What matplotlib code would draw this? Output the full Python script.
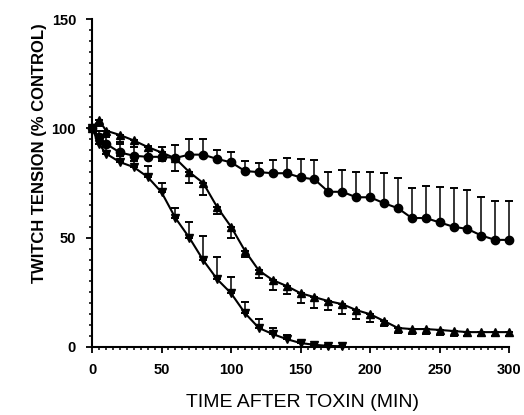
import matplotlib
matplotlib.use("Agg")
import matplotlib.pyplot as plt
from matplotlib.ticker import MultipleLocator

# temps (min)
t = [0, 5, 10, 20, 30, 40, 50, 60, 70, 80, 90, 100, 110, 120, 130, 140, 150,
     160, 170, 180, 190, 200, 210, 220, 230, 240, 250, 260, 270, 280, 290, 300]

# cercles : declin lent, barres vers le haut
rond = [100, 96, 93, 89, 87.5, 87, 87, 86.5, 88, 88, 86, 84.5, 80.5, 80, 79.5,
        79.5, 77.6, 76.7, 71, 71, 68.5, 68.5, 65.8, 63.5, 59, 59, 57, 55, 54, 51, 49, 49]
rond_err = [0, 3, 4, 4, 7, 5, 4.7, 6, 7, 7, 4, 4.5, 4.6, 4, 6, 7, 8.5, 9, 9, 10,
            11.5, 11.5, 13.7, 14, 13.6, 14.5, 16, 17.6, 18, 17.5, 17.7, 18]

# triangles : declin sigmoide, barres vers le bas
tri = [100, 104, 99, 97, 94.5, 91.5, 89, 86.3, 80, 75, 64, 55, 44, 35, 30.6,
       27.9, 24.6, 22.8, 21, 19.6, 16.9, 15, 11.9, 8.7, 8.2, 8.2, 7.8, 7.3, 6.8, 6.8, 6.8, 6.8]
tri_err = [0, 3, 3, 3, 3, 4, 4, 6, 5, 5.6, 3, 5, 3, 3.5, 4.6, 3.5, 4.6, 4.8, 4,
           4.6, 4.1, 3.6, 2.3, 2.3, 2.3, 2.3, 2.3, 2.3, 2, 2, 2, 2]

# triangles inverses : declin rapide, barres vers le haut
t_inv = [0, 5, 10, 20, 30, 40, 50, 60, 70, 80, 90, 100, 110, 120, 130, 140, 150, 160, 170, 180]
inv = [100, 93, 88.5, 84.6, 82.3, 77.8, 70.8, 59, 50, 39.7, 31, 24.6, 15.5, 8.7,
       5.9, 3.6, 1.8, 1, 0.5, 0.3]
inv_err = [0, 3, 3, 3, 3, 5, 4.2, 4.5, 7, 11.3, 10, 7.4, 5, 4.1, 2.8, 1.9, 1, 0.5, 0.3, 0.3]

xticks = [0, 50, 100, 150, 200, 250, 300]
yticks = [0, 50, 100, 150]

fig = plt.figure(figsize=(5.24, 4.15), dpi=100)
ax = fig.add_axes([0.1756, 0.1639, 0.796, 0.790])

zeros = [0] * len(t)
ax.errorbar(t, rond, yerr=[zeros, rond_err], fmt='none', ecolor='k',
            elinewidth=1.1, capsize=3, capthick=1.4, clip_on=False)
ax.errorbar(t, tri, yerr=[tri_err, zeros], fmt='none', ecolor='k',
            elinewidth=1.1, capsize=3, capthick=1.4, clip_on=False)
ax.errorbar(t_inv, inv, yerr=[[0] * len(t_inv), inv_err], fmt='none', ecolor='k',
            elinewidth=1.1, capsize=3, capthick=1.4, clip_on=False)

ax.plot(t, rond, '-o', color='k', lw=1.5, ms=6, clip_on=False)
ax.plot(t, tri, '-^', color='k', lw=1.5, ms=5.5, clip_on=False)
ax.plot(t_inv, inv, '-v', color='k', lw=1.5, ms=5.5, clip_on=False)

ax.set_xlim(0, 300)
ax.set_ylim(0, 150)
ax.set_xticks(xticks)
ax.set_yticks(yticks)
ax.xaxis.set_minor_locator(MultipleLocator(5))
ax.yaxis.set_minor_locator(MultipleLocator(5))
ax.spines['top'].set_visible(False)
ax.spines['right'].set_visible(False)
ax.spines['left'].set_linewidth(1.5)
ax.spines['bottom'].set_linewidth(1.5)
ax.tick_params(which='major', direction='out', length=4.5, width=1.3, pad=7,
               labelsize=10.5)
ax.tick_params(which='minor', direction='out', length=2.5, width=1.1)
for lab in ax.get_xticklabels() + ax.get_yticklabels():
    lab.set_fontweight('bold')
    lab.set_family('Liberation Sans')

fig.text(0.076, 0.631, 'TWITCH TENSION (% CONTROL)', rotation=90,
         ha='center', va='center', fontsize=12, fontweight='bold',
         family='Liberation Sans')
fig.text(0.578, 0.029, 'TIME AFTER TOXIN (MIN)', ha='center', va='center',
         fontsize=14, family='Liberation Sans')

fig.savefig('out.png', dpi=100)
